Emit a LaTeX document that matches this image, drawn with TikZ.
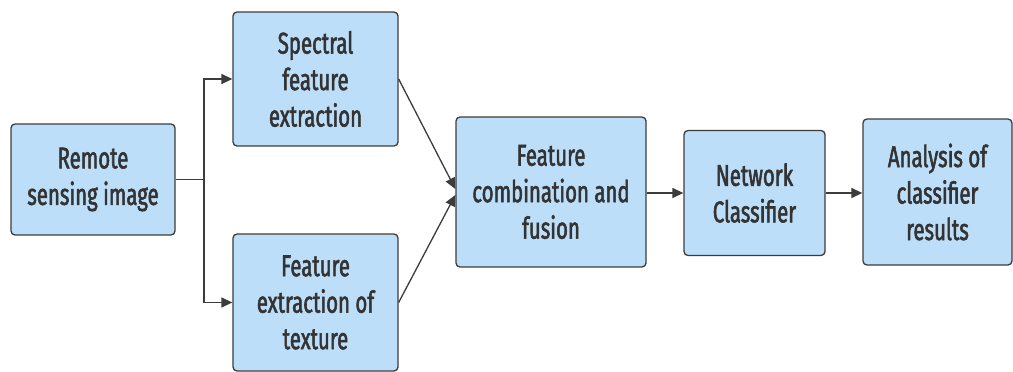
\documentclass[tikz,border=0pt]{standalone}
\usepackage{fontspec}
\usetikzlibrary{arrows.meta}
\newfontfamily\boxfont{Fira Sans}[FakeStretch=0.68,FakeBold=1.8]
\definecolor{boxfill}{HTML}{BDDEF8}
\definecolor{boxline}{HTML}{3C3C3C}
\definecolor{inktext}{HTML}{333333}
\tikzset{
  stepbox/.style={draw=boxline, line width=1.3pt, fill=boxfill, rounded corners=4pt,
    align=center, text=inktext, inner sep=0pt,
    font=\boxfont\fontsize{30}{36.5}\selectfont},
  link/.style={draw=boxline, line width=1.3pt},
  arrow/.style={link, -{Triangle[length=11pt,width=10pt]}}
}
\begin{document}
\begin{tikzpicture}[x=1pt,y=-1pt]
\useasboundingbox (0,0) rectangle (1013,372);
% processing stages
\node[stepbox, minimum width=164pt, minimum height=111pt] (rs) at (93,179.5) {Remote\\sensing image};
\node[stepbox, minimum width=165pt, minimum height=134pt] (sp) at (315.5,79) {Spectral\\feature\\extraction};
\node[stepbox, minimum width=165pt, minimum height=137pt] (tx) at (315.5,302.5) {Feature\\extraction of\\texture};
\node[stepbox, minimum width=190pt, minimum height=150pt] (fu) at (551,192) {Feature\\combination and\\fusion};
\node[stepbox, minimum width=141pt, minimum height=125pt] (nc) at (754.5,193) {Network\\Classifier};
\node[stepbox, minimum width=149pt, minimum height=146pt] (an) at (937.5,192) {Analysis of\\classifier\\results};
% branching from the input image
\coordinate (j) at (204,179.5);
\draw[link] (rs.east) -- (j);
\draw[arrow] (j) |- (sp.west);
\draw[arrow] (j) |- (tx.west);
% merging both feature streams
\draw[arrow] (sp.east) -- ([yshift=3pt]fu.west);
\draw[arrow] (tx.east) -- ([yshift=-3pt]fu.west);
% classification chain
\draw[arrow] (fu.east |- nc.west) -- (nc.west);
\draw[arrow] (nc.east) -- (nc.east -| an.west);
\end{tikzpicture}
\end{document}
